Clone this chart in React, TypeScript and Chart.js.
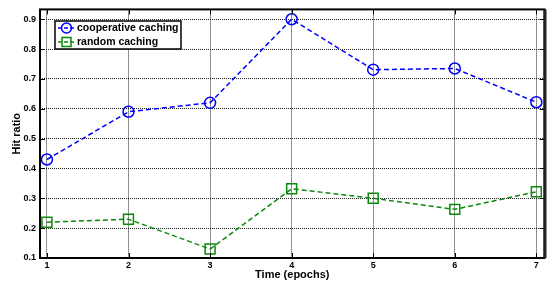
import React, { useEffect, useRef } from "react";
import { Chart, registerables } from "chart.js";

Chart.register(...registerables);

const epochs = [1, 2, 3, 4, 5, 6, 7];
const cooperative = [0.43, 0.59, 0.62, 0.9, 0.731, 0.735, 0.622];
const randomCaching = [0.22, 0.23, 0.13, 0.332, 0.3, 0.263, 0.322];
const yTicks = [0.1, 0.2, 0.3, 0.4, 0.5, 0.6, 0.7, 0.8, 0.9];
const seriesNames = ["cooperative caching", "random caching"];

const FONT = "'Liberation Sans', Arial, sans-serif";

const framePlugin = {
  id: "frame",
  afterDatasetsDraw(chart: any) {
    const { ctx, chartArea: a } = chart;
    ctx.save();
    ctx.setLineDash([]);
    // inward ticks
    ctx.strokeStyle = "#000";
    ctx.lineWidth = 1;
    const xs = chart.scales.x;
    const ys = chart.scales.y;
    ctx.beginPath();
    epochs.forEach((e) => {
      const px = Math.round(xs.getPixelForValue(e)) + 0.5;
      ctx.moveTo(px, a.bottom);
      ctx.lineTo(px, a.bottom - 5);
      ctx.moveTo(px, a.top);
      ctx.lineTo(px, a.top + 5);
    });
    yTicks.forEach((t) => {
      const py = Math.round(ys.getPixelForValue(t)) + 0.5;
      ctx.moveTo(a.left, py);
      ctx.lineTo(a.left + 5, py);
      ctx.moveTo(a.right, py);
      ctx.lineTo(a.right - 5, py);
    });
    ctx.stroke();
    // frame
    ctx.lineWidth = 2;
    ctx.strokeStyle = "#000";
    ctx.strokeRect(a.left, a.top, a.right - a.left, a.bottom - a.top);
    ctx.lineWidth = 3;
    ctx.strokeStyle = "#222";
    ctx.beginPath();
    ctx.moveTo(a.right + 0.5, a.top);
    ctx.lineTo(a.right + 0.5, a.bottom);
    ctx.stroke();

    // legend
    const lx = 55, ly = 21, lw = 126, lh = 28;
    ctx.fillStyle = "#fff";
    ctx.fillRect(lx, ly, lw, lh);
    ctx.lineWidth = 1.5;
    ctx.strokeStyle = "#000";
    ctx.strokeRect(lx, ly, lw, lh);
    chart.data.datasets.forEach((ds: any, i: number) => {
      const cy = ly + 7 + i * 14;
      ctx.strokeStyle = ds.borderColor;
      ctx.lineWidth = 1.5;
      ctx.setLineDash([4, 2]);
      ctx.beginPath();
      ctx.moveTo(lx + 3, cy);
      ctx.lineTo(lx + 20, cy);
      ctx.stroke();
      ctx.setLineDash([]);
      ctx.lineWidth = 1.5;
      ctx.beginPath();
      if (ds.pointStyle === "circle") {
        ctx.arc(lx + 11.5, cy, 5, 0, Math.PI * 2);
      } else {
        ctx.rect(lx + 7, cy - 4.5, 9, 9);
      }
      ctx.stroke();
      ctx.fillStyle = "#000";
      ctx.font = `bold 10.5px ${FONT}`;
      ctx.textBaseline = "middle";
      ctx.textAlign = "left";
      ctx.fillText(ds.label, lx + 22, cy + 0.5);
    });
    ctx.restore();
  },
};

export default function App() {
  const ref = useRef<HTMLCanvasElement | null>(null);

  useEffect(() => {
    document.body.style.margin = "0";
    const canvas = ref.current;
    if (!canvas) return;
    const chart = new Chart(canvas, {
      type: "line",
      data: {
        datasets: [
          {
            label: seriesNames[0],
            data: epochs.map((e, i) => ({ x: e, y: cooperative[i] })),
            borderColor: "#0000ff",
            backgroundColor: "transparent",
            borderWidth: 1.5,
            borderDash: [5, 3],
            pointStyle: "circle",
            pointRadius: 5.5,
            pointBorderWidth: 1.5,
            pointBackgroundColor: "transparent",
            pointBorderColor: "#0000ff",
            tension: 0,
          },
          {
            label: seriesNames[1],
            data: epochs.map((e, i) => ({ x: e, y: randomCaching[i] })),
            borderColor: "#0a8a0a",
            backgroundColor: "transparent",
            borderWidth: 1.5,
            borderDash: [5, 3],
            pointStyle: "rect",
            pointRadius: 7,
            pointBorderWidth: 1.5,
            pointBackgroundColor: "transparent",
            pointBorderColor: "#0a8a0a",
            tension: 0,
          },
        ],
      },
      options: {
        animation: false,
        responsive: false,
        maintainAspectRatio: false,
        layout: { padding: { top: 6, right: 6, left: 0, bottom: 0 } },
        plugins: {
          legend: { display: false },
          tooltip: { enabled: false },
        },
        scales: {
          x: {
            type: "linear",
            min: 0.915,
            max: 7.1,
            afterFit: (s: any) => {
              s.height = 28;
            },
            afterBuildTicks: (s: any) => {
              s.ticks = epochs.map((v) => ({ value: v }));
            },
            ticks: {
              color: "#000",
              padding: 2,
              font: { family: FONT, size: 9, weight: "bold" },
              callback: (v: any) => String(v),
              maxRotation: 0,
              autoSkip: false,
            },
            grid: { color: "#222", lineWidth: 1, drawTicks: false },
            border: { display: false, dash: [1, 1] },
            title: {
              display: true,
              text: "Time (epochs)",
              color: "#000",
              font: { family: FONT, size: 11, weight: "bold" },
              padding: { top: 0, bottom: 4 },
            },
          },
          y: {
            type: "linear",
            min: 0.1,
            max: 0.933,
            afterFit: (s: any) => {
              s.width = 40;
            },
            afterBuildTicks: (s: any) => {
              s.ticks = yTicks.map((v) => ({ value: v }));
            },
            ticks: {
              color: "#000",
              padding: 4,
              font: { family: FONT, size: 9, weight: "bold" },
              callback: (v: any) => Number(v).toFixed(1),
              autoSkip: false,
            },
            grid: { color: "#222", lineWidth: 1, drawTicks: false },
            border: { display: false, dash: [1, 1] },
            title: {
              display: true,
              text: "Hit ratio",
              color: "#000",
              font: { family: FONT, size: 11, weight: "bold" },
              padding: { top: 10, bottom: 0 },
            },
          },
        },
      },
      plugins: [framePlugin],
    } as any);
    return () => chart.destroy();
  }, []);

  return (
    <div style={{ width: 553, height: 286, background: "#fff" }}>
      <canvas ref={ref} width={553} height={286} style={{ display: "block" }} />
    </div>
  );
}
